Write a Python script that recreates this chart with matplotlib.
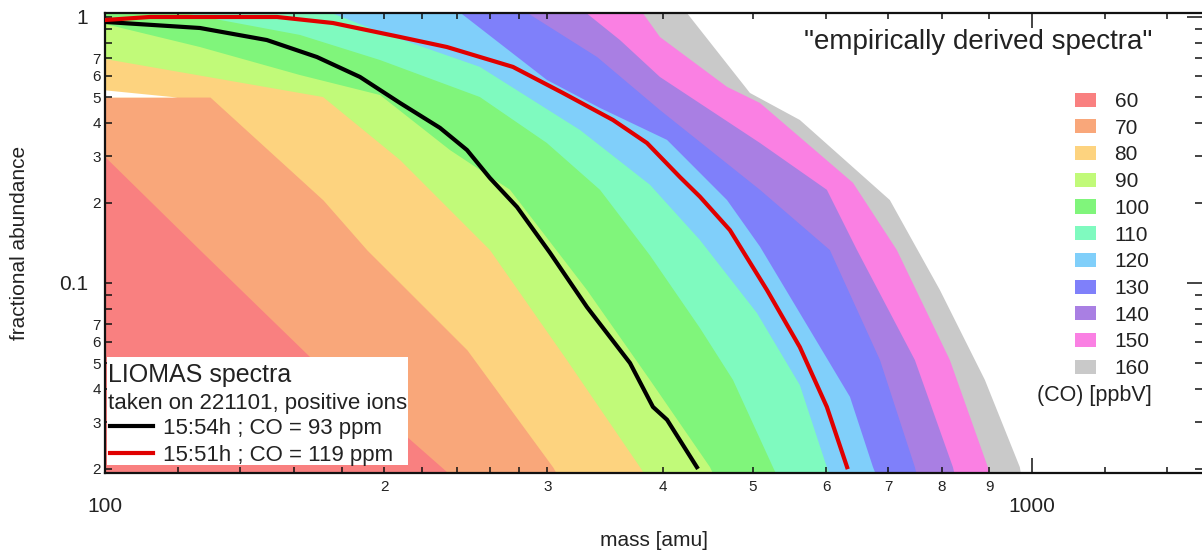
import matplotlib
matplotlib.use('Agg')
import matplotlib.pyplot as plt
from matplotlib.patches import Patch, Rectangle
from matplotlib.ticker import FixedLocator, FixedFormatter

plt.rcParams['font.family'] = ['Liberation Sans', 'DejaVu Sans']

# ---------------- data ----------------
co_levels = ['60', '70', '80', '90', '100', '110', '120', '130', '140', '150', '160']
band_colors = ['#F98080', '#F9A77A', '#FDD37F', '#C1FA79', '#80F57B', '#7FFABF',
               '#80CFFA', '#7F80FA', '#A97FE3', '#FA80E3', '#C9C9C9']

# upper boundary of each "empirically derived spectrum" band (mass [amu], fractional abundance)
mass_60 = [100, 126.6, 166.4, 212.3, 232.6, 238.5]
abund_60 = [0.298, 0.133, 0.0527, 0.0262, 0.0198, 0.0182]

mass_70 = [100, 129.8, 171.9, 191.7, 208.1, 245.8, 304.2, 309.6]
abund_70 = [0.5, 0.5, 0.205, 0.133, 0.100, 0.056, 0.0203, 0.0182]

mass_80 = [100, 171.9, 208.1, 260.2, 315.0, 377.7, 385.2]
abund_80 = [0.695, 0.500, 0.290, 0.133, 0.0513, 0.0203, 0.0182]

# small gap below the 80 band at low mass
gap_mass = [100, 119.6]
gap_upper = [0.532, 0.5]
gap_lower = [0.5, 0.5]

mass_90 = [100, 126.6, 162.3, 198.0, 235.6, 273.5, 331.1, 387.2, 449.5, 456.2]
abund_90 = [0.941, 0.771, 0.605, 0.509, 0.316, 0.224, 0.0941, 0.0432, 0.0203, 0.0182]

mass_100 = [100, 120.5, 162.3, 198.0, 253.8, 299.7, 342.0, 387.2, 438.4, 475.9, 525.6, 533.5]
abund_100 = [1.1, 1.04, 0.856, 0.689, 0.500, 0.336, 0.224, 0.127, 0.0677, 0.0432, 0.0203, 0.0182]

mass_110 = [100, 174.9, 198.0, 253.8, 325.4, 387.2, 438.4, 505.1, 561.9, 600.9, 608.4]
abund_110 = [1.1, 1.04, 0.878, 0.649, 0.376, 0.234, 0.145, 0.0771, 0.0413, 0.0203, 0.0182]

mass_120 = [100, 241.5, 299.7, 342.0, 404.0, 468.9, 508.9, 576.1, 636.4, 673.9, 682.3]
abund_120 = [1.1, 1.04, 0.580, 0.455, 0.345, 0.205, 0.137, 0.0666, 0.0373, 0.0203, 0.0182]

mass_130 = [100, 285.0, 339.6, 396.9, 508.9, 605.4, 685.7, 747.8, 753.4]
abund_130 = [1.1, 1.04, 0.707, 0.447, 0.224, 0.133, 0.0513, 0.0203, 0.0182]

mass_140 = [100, 330.0, 359.4, 396.9, 508.9, 600.9, 647.6, 747.8, 821.9, 828.0]
abund_140 = [1.1, 1.04, 0.819, 0.595, 0.336, 0.224, 0.133, 0.0513, 0.0203, 0.0182]

mass_150 = [100, 380.0, 396.9, 468.9, 508.9, 641.2, 715.0, 815.7, 896.4, 900.9]
abund_150 = [1.1, 1.04, 0.841, 0.546, 0.475, 0.238, 0.133, 0.0513, 0.0203, 0.0182]

mass_160 = [100, 424.0, 496.4, 561.9, 702.7, 795.7, 889.8, 970.6, 975.4]
abund_160 = [1.1, 1.04, 0.518, 0.410, 0.205, 0.0941, 0.0432, 0.0203, 0.0182]

# measured LIOMAS spectra
mass_1554 = [100, 126.6, 149.5, 169.3, 188.4, 208.1, 229.8, 245.8, 260.2, 278.3,
             302.0, 331.1, 368.5, 390.1, 404.0, 435.1]
abund_1554 = [0.958, 0.909, 0.819, 0.707, 0.595, 0.475, 0.383, 0.316, 0.248, 0.193,
              0.130, 0.0812, 0.0500, 0.0342, 0.0306, 0.0203]

mass_1551 = [100, 111.8, 126.6, 153.3, 176.2, 208.1, 233.8, 275.5, 311.9, 353.2,
             384.3, 417.2, 438.4, 472.3, 517.8, 561.9, 600.9, 631.9]
abund_1551 = [0.974, 1.0, 1.0, 1.0, 0.949, 0.841, 0.771, 0.649, 0.518, 0.410,
              0.336, 0.250, 0.211, 0.158, 0.0941, 0.0574, 0.0342, 0.0203]

label_1554 = '15:54h ; CO = 93 ppm'
label_1551 = '15:51h ; CO = 119 ppm'

x_major = [100, 1000]
x_major_labels = ['100', '1000']
x_minor = [120, 140, 160, 180, 200, 220, 240, 260, 280, 300, 400, 500, 600, 700,
           800, 900, 1200, 1400]
x_minor_labels = ['', '', '', '', '2', '', '', '', '', '3', '4', '5', '6', '7',
                  '8', '9', '', '']
y_major = [0.1, 1]
y_major_labels = ['0.1', '1']
y_minor = [0.02, 0.03, 0.04, 0.05, 0.06, 0.07, 0.08, 0.09,
           0.2, 0.3, 0.4, 0.5, 0.6, 0.7, 0.8, 0.9]
y_minor_labels = ['2', '3', '4', '5', '6', '7', '', '',
                  '2', '3', '4', '5', '6', '7', '', '']

# ---------------- figure ----------------
W, H = 1202, 552
fig = plt.figure(figsize=(W / 100, H / 100), dpi=100)
ax = fig.add_axes([105 / W, 79 / H, (W - 105) / W, 460 / H])
ax.set_xscale('log')
ax.set_yscale('log')

bands = [(mass_160, abund_160), (mass_150, abund_150), (mass_140, abund_140),
         (mass_130, abund_130), (mass_120, abund_120), (mass_110, abund_110),
         (mass_100, abund_100), (mass_90, abund_90), (mass_80, abund_80),
         (mass_70, abund_70), (mass_60, abund_60)]
band_cols = band_colors[::-1]
for (m, a), c in zip(bands, band_cols):
    ax.fill_between(m, a, 0.005, color=c, lw=0, zorder=1)
ax.fill_between(gap_mass, gap_lower, gap_upper, color='white', lw=0, zorder=1.1)

l1, = ax.plot(mass_1554, abund_1554, color='black', lw=3.0, zorder=3,
              solid_joinstyle='round', label=label_1554)
l2, = ax.plot(mass_1551, abund_1551, color='#E00000', lw=3.0, zorder=3,
              solid_joinstyle='round', label=label_1551)

ax.set_xlim(100, 1526)
ax.set_ylim(0.0193, 1.035)

ax.xaxis.set_major_locator(FixedLocator(x_major))
ax.xaxis.set_major_formatter(FixedFormatter(x_major_labels))
ax.xaxis.set_minor_locator(FixedLocator(x_minor))
ax.xaxis.set_minor_formatter(FixedFormatter(x_minor_labels))
ax.yaxis.set_major_locator(FixedLocator(y_major))
ax.yaxis.set_major_formatter(FixedFormatter(y_major_labels))
ax.yaxis.set_minor_locator(FixedLocator(y_minor))
ax.yaxis.set_minor_formatter(FixedFormatter(y_minor_labels))

ax.tick_params(which='both', direction='in', top=True, right=True, width=1.1,
               color='#111111', labelcolor='#222222')
ax.tick_params(axis='x', which='major', length=11, labelsize=15, pad=17)
ax.tick_params(axis='x', which='minor', length=4, labelsize=11, pad=5)
ax.tick_params(axis='y', which='major', length=11, labelsize=15, pad=12)
ax.tick_params(axis='y', which='minor', length=5, labelsize=11, pad=3)
for t in ax.yaxis.get_major_ticks():
    t.tick1line.set_markersize(5)

for s in ['left', 'bottom', 'top']:
    ax.spines[s].set_linewidth(1.6)
    ax.spines[s].set_color('#111111')
ax.spines['right'].set_visible(False)

ax.set_xlabel('mass [amu]', fontsize=15, color='#222222', va='center')
ax.xaxis.set_label_coords(0.5, -(540 - 473) / 460)
ax.set_ylabel('fractional abundance', fontsize=15, color='#222222', va='center')
ax.yaxis.set_label_coords(-(105 - 20) / (W - 105), 0.5)

tf = fig.transFigure
ax.text(1152 / W, 1 - 42 / H, '"empirically derived spectra"', transform=tf,
        ha='right', va='center', fontsize=20, color='#222222')
ax.text(1152 / W, 1 - 395 / H, '(CO) [ppbV]', transform=tf,
        ha='right', va='center', fontsize=15.5, color='#222222')

handles = [Patch(facecolor=c, edgecolor='none') for c in band_colors]
leg1 = ax.legend(handles, co_levels, loc='upper left',
                 bbox_to_anchor=(1075 / W, 1 - 92 / H), bbox_transform=tf,
                 frameon=False, fontsize=15, handlelength=1.0, handleheight=0.67,
                 handletextpad=0.9, labelspacing=0.37, borderpad=0, borderaxespad=0)
for t in leg1.get_texts():
    t.set_color('#222222')
ax.add_artist(leg1)

ax.add_patch(Rectangle((107 / W, 1 - 465 / H), (408 - 107) / W, (465 - 357) / H,
                       transform=tf, facecolor='white', edgecolor='none', zorder=6))
ax.text(108 / W, 1 - 375 / H, 'LIOMAS spectra', transform=tf, ha='left', va='center',
        fontsize=18, color='#222222', zorder=7)
ax.text(108 / W, 1 - 403 / H, 'taken on 221101, positive ions', transform=tf,
        ha='left', va='center', fontsize=16, color='#222222', zorder=7)
leg2 = ax.legend(handles=[l1, l2], loc='upper left',
                 bbox_to_anchor=(110 / W, 1 - 418 / H), bbox_transform=tf,
                 frameon=False, fontsize=16, handlelength=1.94, handletextpad=0.45,
                 labelspacing=0.27, borderpad=0, borderaxespad=0)
leg2.set_zorder(8)
for t in leg2.get_texts():
    t.set_color('#222222')

fig.savefig('out.png', dpi=100)
